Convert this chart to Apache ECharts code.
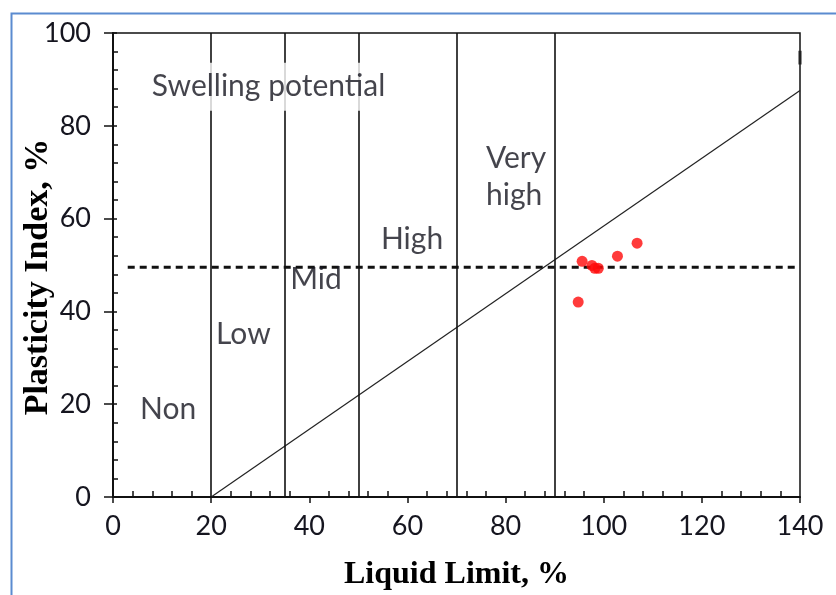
<!DOCTYPE html>
<html>
<head>
<meta charset="utf-8">
<script src="https://cdn.jsdelivr.net/npm/echarts@6/dist/echarts.min.js"></script>
<style>html,body{margin:0;padding:0;background:#fff;}#c{width:836px;height:595px;}</style>
</head>
<body>
<div id="c"></div>
<script>
// ---- data ----
var xTicks = [0, 20, 40, 60, 80, 100, 120, 140];
var yTicks = [0, 20, 40, 60, 80, 100];
var boundaryLL = [20, 35, 50, 70, 90];            // swelling potential class limits (Liquid Limit)
var aLineLL = [20, 140];
var aLinePI = [0, 87.6];                           // PI = 0.73 (LL - 20)
var dashLL = [3, 139];
var dashPI = [49.5, 49.5];
var sampleLL = [95.6, 97.6, 98.2, 98.9, 102.8, 106.8, 94.8];
var samplePI = [50.8, 49.9, 49.3, 49.3, 51.9, 54.7, 42.0];
var zoneNames = ['Swelling potential', 'Non', 'Low', 'Mid', 'High', 'Very\nhigh'];
var zoneLL = [7.5, 5.5, 21.0, 36.1, 54.6, 76.0];
var zonePI = [88.4, 18.8, 35.1, 47.0, 55.6, 68.9];
var markLL = [140, 140];
var markPI = [93.2, 96.2];

function pairs(a, b) { return a.map(function (v, i) { return [v, b[i]]; }); }

var txt = '#15151f';
var sans = 'Lato';
var serif = '"Liberation Serif", "Times New Roman", serif';

var chart = echarts.init(document.getElementById('c'), null, { renderer: 'canvas' });
var baseX = { type: 'value', min: 0, max: 140, interval: 20, gridIndex: 0 };
var baseY = { type: 'value', min: 0, max: 100, interval: 20, gridIndex: 0 };
chart.setOption({
  animation: false,
  backgroundColor: '#fff',
  graphic: [{
    type: 'rect', left: 9, top: 11, silent: true,
    shape: { x: 0, y: 0, width: 900, height: 700 },
    style: { fill: 'none', stroke: '#5b8bd0', lineWidth: 2 }
  }],
  grid: {
    left: 113, right: 36, top: 33, bottom: 98,
    containLabel: false, outerBoundsMode: 'none',
    show: true, borderColor: '#111', borderWidth: 1.5, backgroundColor: 'transparent'
  },
  xAxis: [
    Object.assign({}, baseX, {
      position: 'bottom',
      name: 'Liquid Limit, %', nameLocation: 'middle', nameGap: 62, nameMoveOverlap: false,
      nameTextStyle: { fontFamily: serif, fontWeight: 'bold', fontSize: 32, color: '#000' },
      axisLine: { show: true, onZero: false, lineStyle: { color: '#111', width: 2 } },
      axisTick: { show: true, inside: false, length: 6, lineStyle: { color: '#111', width: 1.5 } },
      axisLabel: { margin: 16, fontFamily: sans, fontSize: 27, color: txt,
        formatter: function (v) { return xTicks.indexOf(v) >= 0 ? String(v) : ''; } },
      splitLine: { show: false },
      minorTick: { show: false }
    }),
    Object.assign({}, baseX, {
      position: 'bottom',
      axisLine: { show: false },
      axisTick: { show: false, inside: true },
      axisLabel: { show: false },
      splitLine: { show: false },
      minorTick: { show: true, splitNumber: 5, length: 6, lineStyle: { color: '#111', width: 1.5 } }
    })
  ],
  yAxis: [
    Object.assign({}, baseY, {
      position: 'left',
      name: 'Plasticity Index, %', nameLocation: 'middle', nameGap: 58, nameMoveOverlap: false,
      nameTextStyle: { fontFamily: serif, fontWeight: 'bold', fontSize: 34, color: '#000', padding: [0, 24, 0, 0] },
      axisLine: { show: true, onZero: false, lineStyle: { color: '#111', width: 2 } },
      axisTick: { show: true, inside: false, length: 9, lineStyle: { color: '#111', width: 1.5 } },
      axisLabel: { margin: 22, fontFamily: sans, fontSize: 27, color: txt,
        formatter: function (v) { return yTicks.indexOf(v) >= 0 ? String(v) : ''; } },
      splitLine: { show: false },
      minorTick: { show: false }
    }),
    Object.assign({}, baseY, {
      position: 'left',
      axisLine: { show: false },
      axisTick: { show: true, inside: true, length: 4, lineStyle: { color: '#111', width: 1.5 } },
      axisLabel: { show: false },
      splitLine: { show: false },
      minorTick: { show: true, splitNumber: 5, length: 5, lineStyle: { color: '#111', width: 1.5 } }
    })
  ],
  series: [
    {
      type: 'line', name: 'boundaries', data: [], silent: true,
      markLine: {
        symbol: 'none', silent: true, animation: false,
        label: { show: false },
        lineStyle: { color: '#111', width: 1.6, type: 'solid' },
        data: boundaryLL.map(function (v) { return { xAxis: v }; })
      }
    },
    {
      type: 'line', name: 'A-line', data: pairs(aLineLL, aLinePI), symbol: 'none', silent: true,
      lineStyle: { color: '#222', width: 1.2 }
    },
    {
      type: 'line', name: 'PI limit', data: pairs(dashLL, dashPI), symbol: 'none', silent: true,
      lineStyle: { color: '#111', width: 3, type: [7, 5] }
    },
    {
      type: 'line', name: 'mark', data: pairs(markLL, markPI), symbol: 'none', silent: true,
      lineStyle: { color: '#222', width: 3 }
    },
    {
      type: 'scatter', name: 'zones', symbolSize: 0, silent: true, z: 5,
      data: pairs(zoneLL, zonePI).map(function (p, i) {
        var d = { value: p, name: zoneNames[i] };
        if (i === 0) d.label = { backgroundColor: '#fff', padding: [6, 2, 6, 2], lineHeight: 36 };
        return d;
      }),
      label: {
        show: true, position: 'inside', align: 'left', verticalAlign: 'middle',
        fontFamily: sans, fontSize: 30, color: txt, lineHeight: 37,
        formatter: function (p) { return p.name; }
      },
      labelLayout: { hideOverlap: false }
    },
    {
      type: 'scatter', name: 'samples', data: pairs(sampleLL, samplePI), symbol: 'circle', symbolSize: 11,
      itemStyle: { color: '#ff0a0a' }, z: 6
    }
  ]
});
</script>
</body>
</html>
